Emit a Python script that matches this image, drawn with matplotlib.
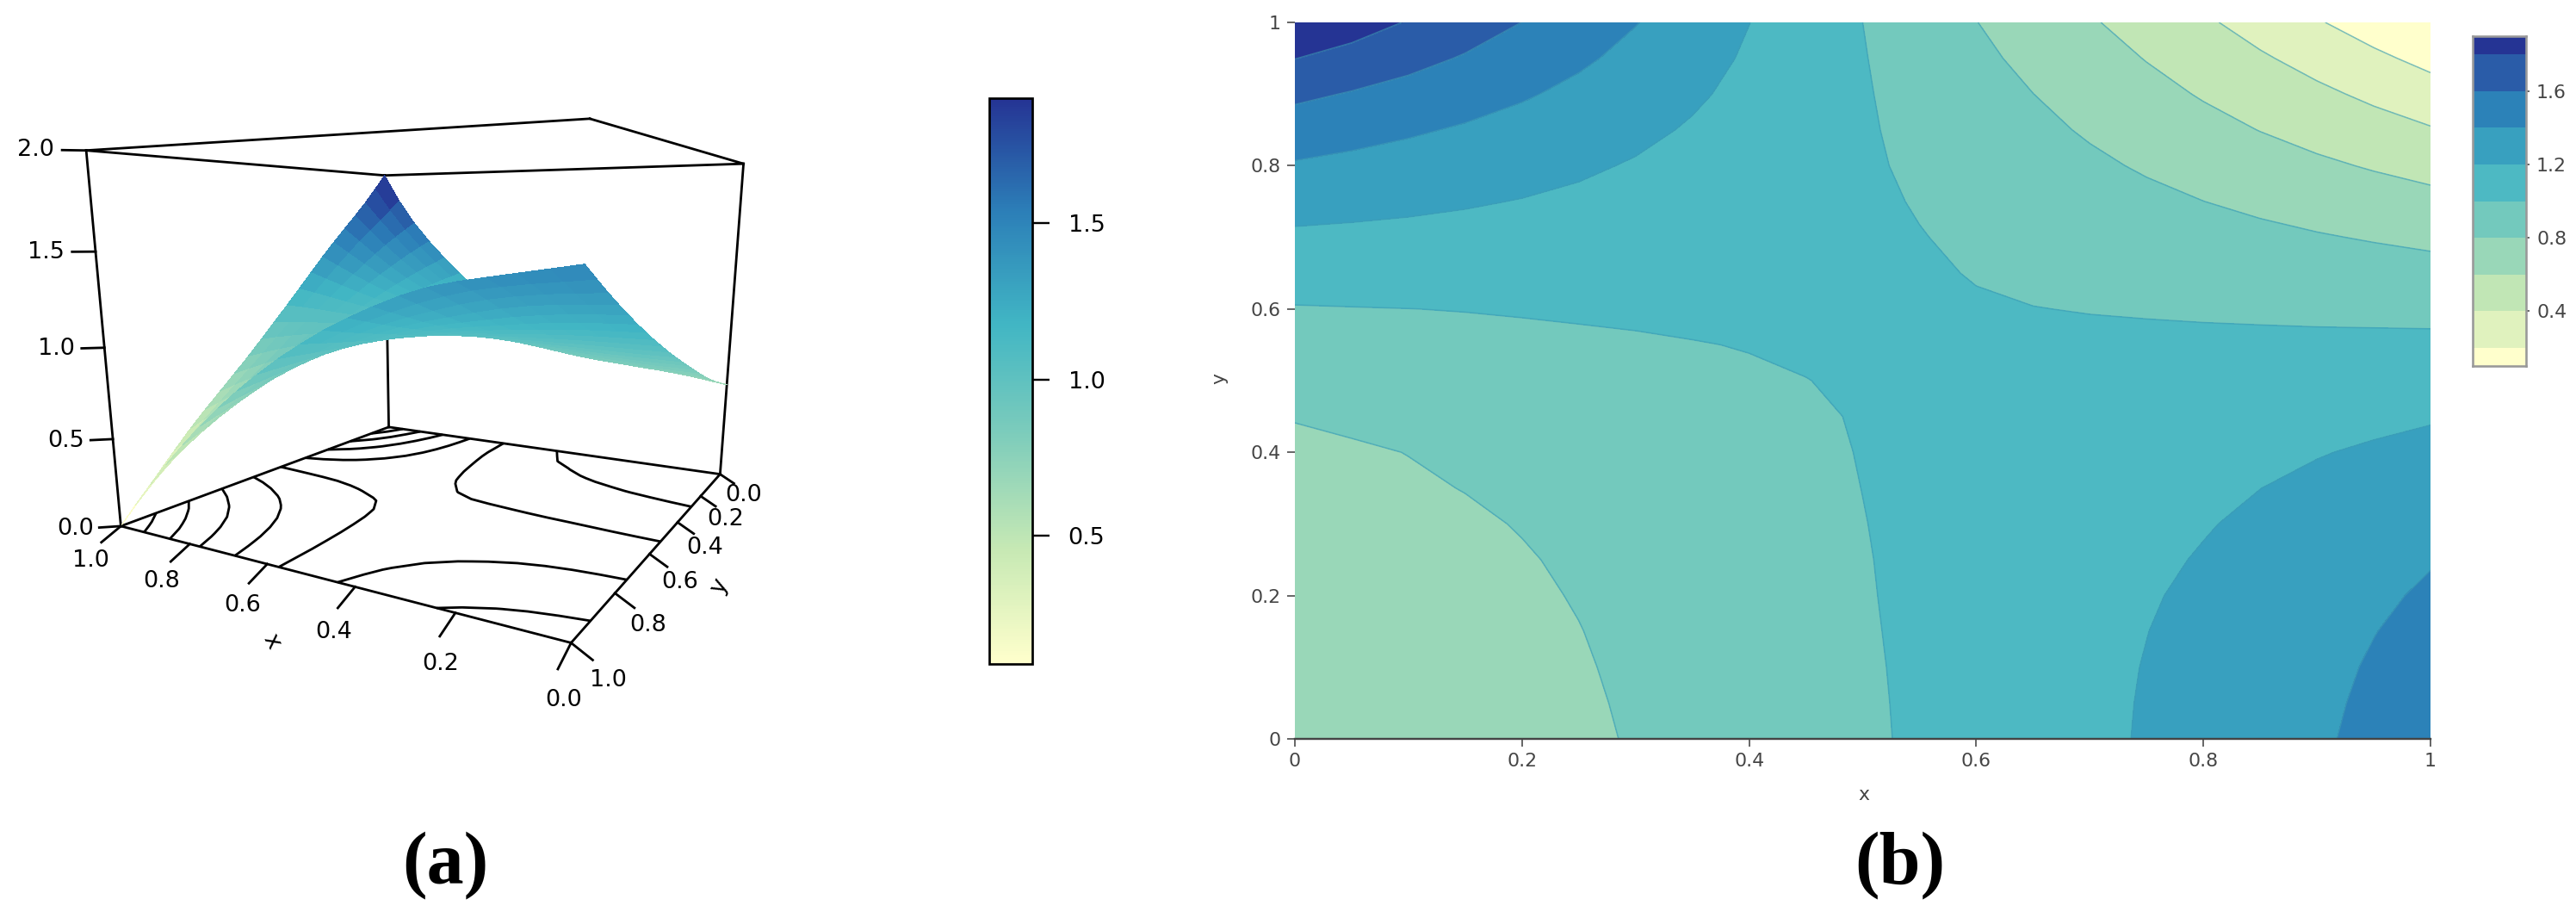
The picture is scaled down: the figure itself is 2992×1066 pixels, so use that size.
import numpy as np
import matplotlib
matplotlib.use("Agg")
import matplotlib.pyplot as plt
from matplotlib.cm import ScalarMappable
from matplotlib.colors import LinearSegmentedColormap, ListedColormap, Normalize
from mpl_toolkits.mplot3d import proj3d

# grid of the map in panel (b)
grid_x = [i / 20 for i in range(21)]
grid_y = [i / 20 for i in range(21)]

# one row per y (0.00 first), values along x
z_rows = [
    [.610, .640, .670, .701, .735, .772, .812, .853, .894, .935, .977, 1.021, 1.067, 1.114, 1.163, 1.214, 1.267, 1.322, 1.379, 1.439, 1.500],
    [.630, .659, .688, .717, .748, .781, .817, .857, .897, .938, .979, 1.023, 1.068, 1.114, 1.161, 1.211, 1.263, 1.317, 1.372, 1.426, 1.480],
    [.650, .678, .705, .731, .759, .789, .823, .861, .901, .941, .982, 1.025, 1.069, 1.113, 1.158, 1.206, 1.257, 1.310, 1.363, 1.413, 1.460],
    [.670, .695, .720, .744, .769, .797, .831, .868, .907, .946, .986, 1.027, 1.068, 1.110, 1.153, 1.198, 1.246, 1.298, 1.349, 1.397, 1.440],
    [.689, .711, .734, .756, .780, .807, .839, .876, .914, .952, .990, 1.028, 1.067, 1.105, 1.145, 1.186, 1.231, 1.280, 1.330, 1.377, 1.419],
    [.708, .728, .748, .769, .791, .818, .851, .886, .922, .958, .993, 1.029, 1.064, 1.099, 1.135, 1.171, 1.211, 1.256, 1.303, 1.348, 1.392],
    [.731, .747, .765, .783, .806, .833, .864, .897, .931, .964, .997, 1.029, 1.061, 1.092, 1.124, 1.156, 1.190, 1.228, 1.269, 1.311, 1.352],
    [.755, .770, .785, .803, .826, .852, .882, .911, .942, .971, 1.001, 1.029, 1.057, 1.084, 1.112, 1.140, 1.169, 1.199, 1.233, 1.267, 1.302],
    [.777, .786, .802, .822, .850, .878, .903, .929, .955, .980, 1.004, 1.027, 1.050, 1.073, 1.096, 1.119, 1.142, 1.166, 1.192, 1.219, 1.247],
    [.805, .822, .842, .865, .888, .910, .930, .950, .970, .989, 1.006, 1.023, 1.040, 1.057, 1.074, 1.091, 1.108, 1.126, 1.144, 1.164, 1.185],
    [.872, .886, .900, .914, .929, .944, .958, .973, .987, .999, 1.009, 1.018, 1.028, 1.038, 1.048, 1.058, 1.068, 1.079, 1.090, 1.102, 1.115],
    [.931, .940, .950, .959, .969, .978, .987, .996, 1.004, 1.009, 1.013, 1.016, 1.018, 1.021, 1.023, 1.026, 1.028, 1.030, 1.032, 1.035, 1.038],
    [.990, .995, .999, 1.004, 1.010, 1.016, 1.020, 1.024, 1.026, 1.025, 1.022, 1.016, 1.009, 1.002, .996, .990, .983, .976, .968, .961, .953],
    [1.078, 1.077, 1.076, 1.075, 1.073, 1.069, 1.065, 1.060, 1.054, 1.044, 1.031, 1.013, .995, .978, .962, .946, .929, .912, .895, .878, .861],
    [1.169, 1.162, 1.154, 1.145, 1.134, 1.122, 1.108, 1.094, 1.077, 1.057, 1.033, 1.005, .976, .948, .921, .895, .868, .841, .813, .787, .761],
    [1.271, 1.253, 1.235, 1.215, 1.194, 1.171, 1.146, 1.119, 1.091, 1.061, 1.027, .991, .953, .915, .878, .840, .801, .763, .726, .689, .653],
    [1.383, 1.354, 1.324, 1.292, 1.259, 1.224, 1.187, 1.148, 1.107, 1.065, 1.021, .976, .929, .880, .831, .781, .730, .680, .632, .584, .537],
    [1.504, 1.465, 1.424, 1.381, 1.335, 1.287, 1.237, 1.184, 1.130, 1.074, 1.018, .960, .902, .842, .781, .719, .657, .596, .536, .475, .414],
    [1.640, 1.588, 1.536, 1.480, 1.420, 1.357, 1.291, 1.224, 1.155, 1.085, 1.014, .943, .872, .801, .729, .657, .585, .513, .439, .362, .283],
    [1.804, 1.731, 1.658, 1.585, 1.510, 1.430, 1.349, 1.264, 1.179, 1.093, 1.008, .923, .839, .756, .675, .593, .510, .423, .333, .239, .144],
    [2.000, 1.892, 1.788, 1.692, 1.599, 1.505, 1.407, 1.305, 1.202, 1.100, 1.000, .901, .803, .710, .618, .526, .429, .324, .216, .107, .000],
]

contour_levels = [.2, .4, .6, .8, 1.0, 1.2, 1.4, 1.6, 1.8]
band_edges = [.1, .2, .4, .6, .8, 1.0, 1.2, 1.4, 1.6, 1.8, 1.9]
band_colors = ["#ffffcc", "#e0f2be", "#c1e6b5", "#99d7b8", "#73c9bd",
               "#4db9c3", "#38a0bf", "#2c82b8", "#2a5ca8", "#253494"]
ramp_colors = ["#ffffcc", "#c7e9b4", "#7fcdbb", "#41b6c4", "#2c7fb8", "#253494"]

x3d_ticks = [0.0, 0.2, 0.4, 0.6, 0.8, 1.0]
y3d_ticks = [0.0, 0.2, 0.4, 0.6, 0.8, 1.0]
z3d_ticks = [0.0, 0.5, 1.0, 1.5, 2.0]
ramp_ticks = [0.5, 1.0, 1.5]
map_ticks = [0, 0.2, 0.4, 0.6, 0.8, 1]
map_tick_labels = ["0", "0.2", "0.4", "0.6", "0.8", "1"]
band_ticks = [0.4, 0.8, 1.2, 1.6]

W, H = 2992, 1066
px = 72 / 100  # points per pixel at dpi 100

plt.rcParams["font.family"] = ["DejaVu Sans"]
fig = plt.figure(figsize=(W / 100, H / 100), dpi=100)

X, Y = np.meshgrid(grid_x, grid_y)
Z = np.array(z_rows)
Z_a = Z.T  # panel (a) has the two axes swapped

ramp = LinearSegmentedColormap.from_list("ylgnbu6", ramp_colors)
ramp_norm = Normalize(0.09, 1.9)
ink = "black"
lw = 2.8 * px

# panel (a)
ax = fig.add_axes([0.1, 0.1, 0.3, 0.3], projection="3d", computed_zorder=False)
ax.apply_aspect = lambda position=None: None  # keep the wide, non square frame
ax.set_xlim(0, 1)
ax.set_ylim(0, 1)
ax.set_zlim(0, 2)
ax.view_init(elev=9.8748, azim=119.8571)
ax.set_proj_type("persp", focal_length=0.2061)
ax.set_box_aspect((1.0134, 1.0138, 1.0))
ax.set_axis_off()

# place the frame so projected coordinates land on the reference pixels
a0, a1 = ax.transLimits.transform([[0, 0], [1, 1]])
frame_w = 4780.5 / (a1[0] - a0[0])
frame_h = 3667.3 / (a1[1] - a0[1])
frame_l = 520.9 - frame_w * a0[0]
frame_b = (H - 389.54) - frame_h * a0[1]
ax.set_position([frame_l / W, frame_b / H, frame_w / W, frame_h / H])


def label3d(x, y, z, s, size):
    # 2D text at the projected spot of a 3D point
    u, v, _ = proj3d.proj_transform(x, y, z, ax.get_proj())
    ax.text2D(u, v, s, transform=ax.transData, ha="center", va="center",
              fontsize=size, color=ink)


corners = {"L": (1, 1), "F": (0, 1), "R": (0, 0), "B": (1, 0)}
for a, b in [("L", "F"), ("F", "R"), ("R", "B"), ("B", "L")]:
    xs = [corners[a][0], corners[b][0]]
    ys = [corners[a][1], corners[b][1]]
    ax.plot(xs, ys, [0, 0], color=ink, lw=lw, zorder=1)
    ax.plot(xs, ys, [2, 2], color=ink, lw=lw, zorder=1)
for c in ["L", "R", "B"]:
    ax.plot([corners[c][0]] * 2, [corners[c][1]] * 2, [0, 2], color=ink, lw=lw, zorder=1)

ax.contour(X, Y, Z_a, levels=contour_levels, zdir="z", offset=0, colors=ink,
           linewidths=lw, zorder=1)
ax.plot_surface(X, Y, Z_a, cmap=ramp, norm=ramp_norm, rstride=1, cstride=1,
                linewidth=0, antialiased=False, shade=False, zorder=2)

label_size = 27 * px
for t in x3d_ticks:
    ax.plot([t, t], [1, 1.05], [0, -0.05], color=ink, lw=lw, zorder=3)
    label3d(t - 0.03, 1.10, -0.09, f"{t:.1f}", label_size)
for t in y3d_ticks:
    ax.plot([0, -0.035], [t, t], [0, -0.05], color=ink, lw=lw, zorder=3)
    label3d(-0.06, t, -0.12, f"{t:.1f}", label_size)
for t in z3d_ticks:
    ax.plot([1, 1.032], [1, 1.028], [t, t], color=ink, lw=lw, zorder=3)
    label3d(1.068, 1.058, t, f"{t:.1f}", label_size)

for child in ax.get_children():
    child.set_clip_on(False)

fig.text(315 / W, 1 - 745 / H, "x", ha="center", va="center", fontsize=label_size, color=ink, rotation=-62)
fig.text(835 / W, 1 - 681 / H, "y", ha="center", va="center", fontsize=label_size, color=ink, rotation=62)

# colour ramp of panel (a)
cax = fig.add_axes([1148.5 / W, (H - 771) / H, 50 / W, 657 / H])
bar = fig.colorbar(ScalarMappable(norm=ramp_norm, cmap=ramp), cax=cax, ticks=ramp_ticks)
bar.outline.set_linewidth(2.7 * px)
bar.outline.set_edgecolor(ink)
cax.tick_params(length=20 * px, width=2.4 * px, pad=22 * px, labelsize=27 * px, colors=ink)
cax.set_yticklabels([f"{t:.1f}" for t in ramp_ticks])

# panel (b)
grey = "#444444"
axb = fig.add_axes([1504 / W, (H - 858) / H, 1319 / W, 832 / H])
fill_levels = [0.0] + contour_levels + [2.0]
axb.contourf(X, Y, Z, levels=fill_levels, colors=band_colors)
axb.contour(X, Y, Z, levels=contour_levels, colors="#3d9db5", linewidths=1.6 * px, alpha=0.6)
axb.set_xlim(0, 1)
axb.set_ylim(0, 1)
axb.set_xticks(map_ticks, map_tick_labels)
axb.set_yticks(map_ticks, map_tick_labels)
axb.tick_params(length=9 * px, width=1.6 * px, color=grey, labelcolor=grey,
                labelsize=22 * px, pad=7 * px)
for side in ["top", "right", "left"]:
    axb.spines[side].set_visible(False)
axb.spines["bottom"].set_color(grey)
axb.spines["bottom"].set_linewidth(2.4 * px)
fig.text(2165 / W, 1 - 923 / H, "x", ha="center", va="center", fontsize=22 * px, color=grey)
fig.text(1416 / W, 1 - 439 / H, "y", ha="center", va="center", fontsize=22 * px, color=grey, rotation=90)

# discrete colour key of panel (b)
kax = fig.add_axes([2872 / W, (H - 425) / H, 62 / W, 383 / H])
kax.pcolormesh([0, 1], band_edges, np.arange(10).reshape(-1, 1),
               cmap=ListedColormap(band_colors), vmin=-0.5, vmax=9.5)
kax.set_xticks([])
kax.yaxis.tick_right()
kax.set_yticks(band_ticks, [f"{t:.1f}" for t in band_ticks])
kax.tick_params(length=4 * px, width=1.6 * px, color=grey, labelcolor=grey,
                labelsize=22 * px, pad=8 * px)
for s in kax.spines.values():
    s.set_color("#999999")
    s.set_linewidth(2.6 * px)

# captions
for cx, cap in [(517, "(a)"), (2207, "(b)")]:
    fig.text(cx / W, 1 - 1005 / H, cap, ha="center", va="center", fontsize=86 * px,
             family="Liberation Serif", weight="bold", color="black")

fig.savefig("out.png", dpi=100)
